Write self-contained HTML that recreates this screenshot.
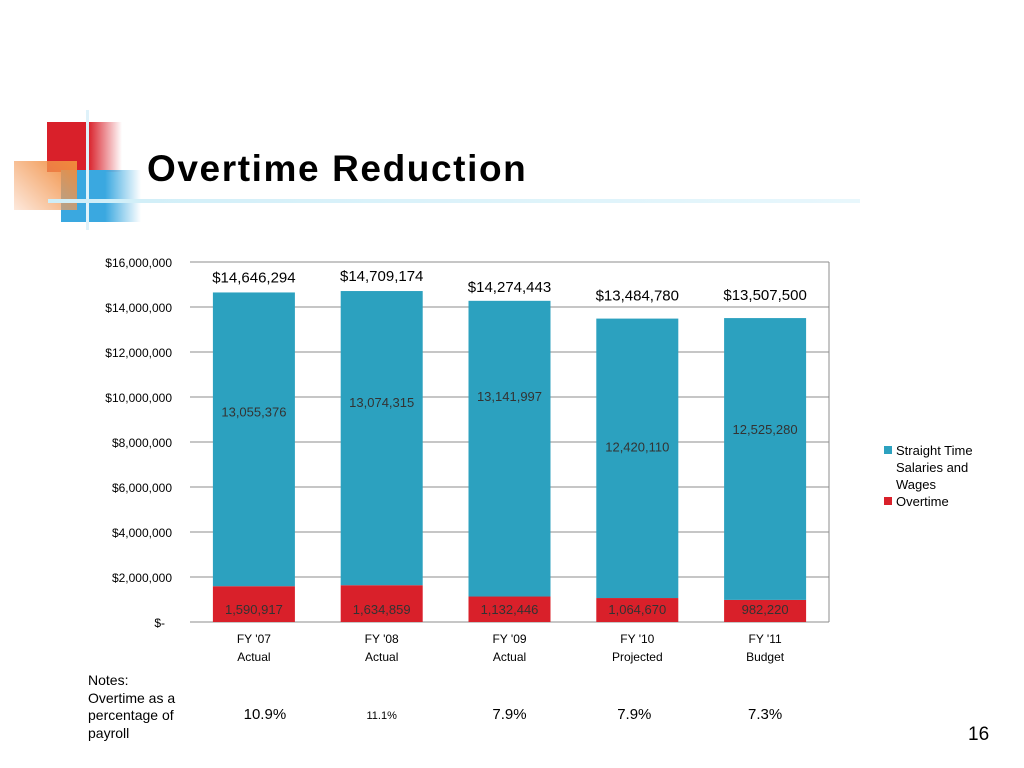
<!DOCTYPE html>
<html><head><meta charset="utf-8"><style>
body{margin:0;width:1024px;height:768px;background:#fff;overflow:hidden;font-family:"Liberation Sans",sans-serif;position:relative}
.a{position:absolute}
</style></head><body>
<div class="a" style="left:0;top:100px;width:200px;height:140px">
 <div class="a" style="left:47px;top:22px;width:75px;height:50px;background:linear-gradient(90deg,#d9202a 55%,rgba(217,32,42,0))"></div>
 <div class="a" style="left:61px;top:70px;width:80px;height:52px;background:linear-gradient(90deg,#3aa8e0 55%,rgba(58,168,224,0))"></div>
 <div class="a" style="left:14px;top:61px;width:63px;height:49px;background:linear-gradient(225deg,#f08a3a,rgba(250,200,170,0.4))"></div>
 <div class="a" style="left:86px;top:10px;width:3px;height:120px;background:#dff2fa"></div>
</div>
<div class="a" style="left:48px;top:199px;width:812px;height:4px;background:linear-gradient(90deg,#cfeef8,#e8f7fc)"></div>
<div class="a" style="left:147px;top:148px;font-size:37px;font-weight:bold;color:#000;letter-spacing:1.6px">Overtime Reduction</div>
<svg class="a" style="left:0;top:0" width="1024" height="768" id="chart"></svg>
<div class="a" style="left:88px;top:672px;font-size:14px;line-height:17.5px">Notes:<br>Overtime as a<br>percentage of<br>payroll</div>
<div class="a" style="left:968px;top:724px;font-size:19px">16</div>
<script>
const categories=["FY '07|Actual","FY '08|Actual","FY '09|Actual","FY '10|Projected","FY '11|Budget"];
const straight=[13055376,13074315,13141997,12420110,12525280];
const overtime=[1590917,1634859,1132446,1064670,982220];
const totals=[14646294,14709174,14274443,13484780,13507500];
const pctLabels=["10.9%","11.1%","7.9%","7.9%","7.3%"];
const yTicks=[0,2000000,4000000,6000000,8000000,10000000,12000000,14000000,16000000];
const labelDy=[124,116,100,133,116];
const totalDy=[-10,-10,-9,-18,-18];
const NS="http://www.w3.org/2000/svg";
const svg=document.getElementById('chart');
const x0=190,x1=829,yTop=262,yBot=622,yMax=16000000;
const y=v=>yBot-(v/yMax)*(yBot-yTop);
const step=(x1-x0)/categories.length;
const cx=i=>x0+step*(i+0.5);
const bw=82;
function mk(t,a){const e=document.createElementNS(NS,t);for(const k in a)e.setAttribute(k,a[k]);svg.appendChild(e);return e;}
const fmt=n=>n.toLocaleString('en-US');
yTicks.forEach(v=>{
 const l=mk('line',{x1:x0,x2:x1,y1:y(v),y2:y(v),stroke:'#8c8c8c','stroke-width':1});
 
 
 const t=mk('text',{x:v===0?165:172,y:y(v)+5,'text-anchor':'end','font-size':12,fill:'#000'});
 t.textContent=v===0?'$-':'$'+fmt(v);
 
 
});
mk('line',{x1:x1,x2:x1,y1:yTop,y2:yBot,stroke:'#8c8c8c'});
categories.forEach((c,i)=>{
 const tot=straight[i]+overtime[i];
 const ro=mk('rect',{x:cx(i)-bw/2,y:y(overtime[i]),width:bw,height:yBot-y(overtime[i]),fill:'#d9202a'});
 
 
 const rs=mk('rect',{x:cx(i)-bw/2,y:y(tot),width:bw,height:y(overtime[i])-y(tot),fill:'#2ca1bf'});
 
 
 const tt=mk('text',{x:cx(i),y:y(tot)+totalDy[i],'text-anchor':'middle','font-size':15});
 tt.textContent='$'+fmt(totals[i]);
 
 
 const sl=mk('text',{x:cx(i),y:y(tot)+labelDy[i],'text-anchor':'middle','font-size':13,fill:'#333'});
 sl.textContent=fmt(straight[i]);
 
 
 const ol=mk('text',{x:cx(i),y:y(0)-8,'text-anchor':'middle','font-size':13,fill:'#333'});
 ol.textContent=fmt(overtime[i]);
 
 
 c.split('|').forEach((p,j)=>{
  const ct=mk('text',{x:cx(i),y:643+j*18,'text-anchor':'middle','font-size':12});
  ct.textContent=p;
  
  
 });
 const pt=mk('text',{x:cx(i)+(i===0?11:i===3?-3:0),y:719,'text-anchor':'middle','font-size':i===1?11:15});
 pt.textContent=pctLabels[i];
 
 
});
const legend=[['#2ca1bf',['Straight Time','Salaries and','Wages'],455],['#d9202a',['Overtime'],506]];
legend.forEach(([col,lines,yy])=>{
 const s=mk('rect',{x:884,y:yy-9,width:8,height:8,fill:col});
 
 
 lines.forEach((ln,j)=>{
  const t=mk('text',{x:896,y:yy+j*17,'font-size':13});
  t.textContent=ln;
  
  
 });
});
</script>
</body></html>
